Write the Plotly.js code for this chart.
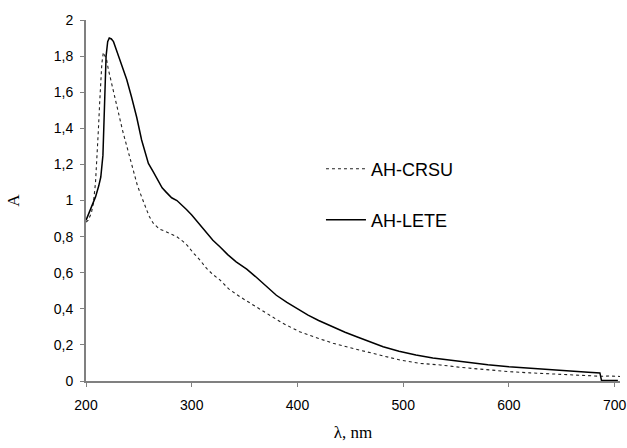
<!DOCTYPE html>
<html>
<head>
<meta charset="utf-8">
<script src="https://cdn.plot.ly/plotly-3.0.1.min.js"></script>
<style>html,body{margin:0;padding:0;background:#fff;}#chart{width:627px;height:448px;}</style>
</head>
<body>
<div id="chart"></div>
<script>
const leteX = [200,203,206,209,212,214,216,217.5,219,220.5,222,224,226,229,232,235,238.5,243,248,252.6,256,259,263.5,268,272,276,281,286,290,295,300,307,314,320,326.6,334,342,352,360,370,380,390,400,410,420,433,445,456,468,481,496,512,528,544,560,580,600,620,640,660,675,686,687.5,695,703];
const leteY = [0.89,0.93,0.97,1.02,1.08,1.13,1.25,1.55,1.80,1.88,1.90,1.895,1.88,1.83,1.78,1.72,1.67,1.575,1.46,1.335,1.26,1.205,1.16,1.11,1.07,1.045,1.015,1.0,0.98,0.95,0.92,0.87,0.82,0.78,0.744,0.70,0.66,0.62,0.58,0.525,0.475,0.435,0.40,0.365,0.335,0.30,0.27,0.245,0.218,0.19,0.165,0.144,0.128,0.116,0.103,0.09,0.079,0.07,0.062,0.054,0.049,0.045,0.003,0.003,0.003];
const crsuX = [200,202,205,207,209,210,211.7,213,214,215,216.4,218,219.5,221,222.7,225,227.4,230,232,234.5,237,239,241.6,244,246.3,248.5,251,254,257.4,260,263.6,267,270,274,279,285.7,292,296,301.4,307.8,314,320,326.6,335,345.5,358,370.8,386,402,418,433.7,450,465,480,497,515,535,555,578,600,620,640,660,673,688,695,705];
const crsuY = [0.88,0.89,0.93,0.985,1.10,1.19,1.39,1.55,1.66,1.76,1.82,1.80,1.78,1.73,1.686,1.62,1.557,1.49,1.446,1.39,1.335,1.29,1.243,1.185,1.132,1.085,1.045,0.995,0.947,0.91,0.874,0.855,0.84,0.832,0.82,0.80,0.772,0.75,0.71,0.67,0.624,0.59,0.56,0.51,0.467,0.42,0.375,0.32,0.273,0.24,0.209,0.184,0.162,0.138,0.116,0.098,0.089,0.075,0.062,0.052,0.045,0.039,0.035,0.033,0.026,0.028,0.025];
const xTicks = [200,300,400,500,600,700];
const xTickText = ['200','300','400','500','600','700'];
const yTicks = [0,0.2,0.4,0.6,0.8,1,1.2,1.4,1.6,1.8,2];
const yTickText = ['0','0,2','0,4','0,6','0,8','1','1,2','1,4','1,6','1,8','2'];

const traces = [
  {x: crsuX, y: crsuY, name: 'AH-CRSU', type: 'scatter', mode: 'lines',
   line: {color: '#222', width: 1.1, dash: 'dot'}, legend: 'legend'},
  {x: leteX, y: leteY, name: 'AH-LETE', type: 'scatter', mode: 'lines',
   line: {color: '#000', width: 1.5}, legend: 'legend2'}
];
const legFont = {family: 'Liberation Sans, Arial, sans-serif', size: 18, color: '#000'};
const layout = {
  width: 627, height: 448,
  margin: {l: 86, r: 7, t: 20, b: 67},
  paper_bgcolor: '#fff', plot_bgcolor: '#fff',
  showlegend: true,
  legend: {x: 0.44, y: 1 - (169-20)/361, xanchor: 'left', yanchor: 'middle',
           bgcolor: 'rgba(0,0,0,0)', borderwidth: 0, font: legFont, itemwidth: 40},
  legend2: {x: 0.44, y: 1 - (220-20)/361, xanchor: 'left', yanchor: 'middle',
           bgcolor: 'rgba(0,0,0,0)', borderwidth: 0, font: legFont, itemwidth: 40},
  xaxis: {range: [200, 705], tickvals: xTicks, ticktext: xTickText,
          showgrid: false, zeroline: false, showline: true, linecolor: '#808080', linewidth: 2,
          ticks: 'outside', ticklen: 4, tickcolor: '#808080', tickwidth: 1,
          ticklabelstandoff: 6,
          tickfont: {family: 'Liberation Sans, Arial, sans-serif', size: 14, color: '#000'},
          title: {text: 'λ, nm', font: {family: 'Liberation Serif, Times New Roman, serif', size: 17, color: '#000'}, standoff: 14}},
  yaxis: {range: [0, 2], tickvals: yTicks, ticktext: yTickText,
          showgrid: false, zeroline: false, showline: true, linecolor: '#808080', linewidth: 2,
          ticks: 'outside', ticklen: 4, tickcolor: '#808080', tickwidth: 1,
          ticklabelstandoff: 4,
          tickfont: {family: 'Liberation Sans, Arial, sans-serif', size: 14, color: '#000'},
          title: {text: 'A', font: {family: 'Liberation Serif, Times New Roman, serif', size: 17, color: '#000'}, standoff: 30}}
};
Plotly.newPlot('chart', traces, layout, {displayModeBar: false, staticPlot: true});
</script>
</body>
</html>
